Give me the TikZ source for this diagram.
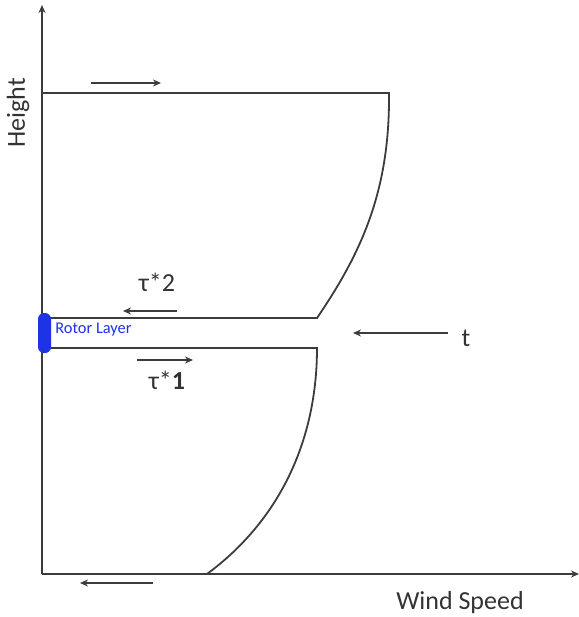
\documentclass[tikz,border=0pt]{standalone}
\usepackage{fontspec}
\setmainfont{Carlito}
\usepackage{xcolor}
\usepackage{tikz}
\usetikzlibrary{arrows.meta}
\definecolor{linegray}{HTML}{3C3C3C}
\definecolor{rotorblue}{HTML}{1E32E6}

\begin{document}
\begin{tikzpicture}[x=0.5pt, y=-0.5pt,
    axis/.style={draw=linegray, line width=0.9pt, -{Stealth[length=4pt,width=3.5pt]}},
    profile/.style={draw=linegray, line width=0.9pt},
    flow/.style={draw=linegray, line width=0.8pt, -{Stealth[length=4pt,width=3.5pt]}},
    lbl/.style={inner sep=0pt, text=black!80, font=\fontsize{13}{15}\selectfont}]
    \useasboundingbox (0,0) rectangle (579,617);

    % axes
    \coordinate (o) at (42,574);
    \coordinate (ytop) at (42,5);
    \coordinate (xend) at (579,574);
    \draw[axis] (o) -- (ytop);
    \draw[axis] (o) -- (xend);
    \node[lbl, rotate=90] (height) at (18,113) {Height};
    \node[lbl] (speed) at (460,603) {Wind Speed};

    % upper profile
    \coordinate (ua) at (42,93);
    \coordinate (ub) at (389,93);
    \coordinate (uc) at (317,318);
    \coordinate (ud) at (42,318);
    \draw[profile] (ua) -- (ub) .. controls (390,190) and (362,252) .. (uc) -- (ud);

    % lower profile
    \coordinate (la) at (42,348);
    \coordinate (lb) at (317,348);
    \coordinate (lc) at (207,574);
    \draw[profile] (la) -- (lb) .. controls (317,440) and (280,520) .. (lc);

    % rotor layer
    \node[fill=rotorblue, rounded corners=3pt, minimum width=6.5pt, minimum height=20pt,
          inner sep=0pt] (rotor) at (44.5,333) {};
    \node[anchor=west, inner sep=0pt, text=rotorblue, font=\fontsize{8.2}{10}\selectfont]
          (rotorlbl) at (55,330) {Rotor Layer};

    % flow arrows
    \coordinate (f1a) at (91,83);   \coordinate (f1b) at (161,83);
    \coordinate (f2a) at (177,311); \coordinate (f2b) at (123,311);
    \coordinate (f3a) at (137,360); \coordinate (f3b) at (193,360);
    \coordinate (f4a) at (448,333); \coordinate (f4b) at (353,333);
    \coordinate (f5a) at (153,583); \coordinate (f5b) at (80,583);
    \draw[flow] (f1a) -- (f1b);
    \draw[flow] (f2a) -- (f2b);
    \draw[flow] (f3a) -- (f3b);
    \draw[flow] (f4a) -- (f4b);
    \draw[flow] (f5a) -- (f5b);

    \node[lbl] (tau2) at (157,282) {τ*2};
    \node[lbl] (tau1) at (167,380) {τ*\textbf{1}};
    \node[lbl] (tlbl) at (466,338) {t};
\end{tikzpicture}
\end{document}
